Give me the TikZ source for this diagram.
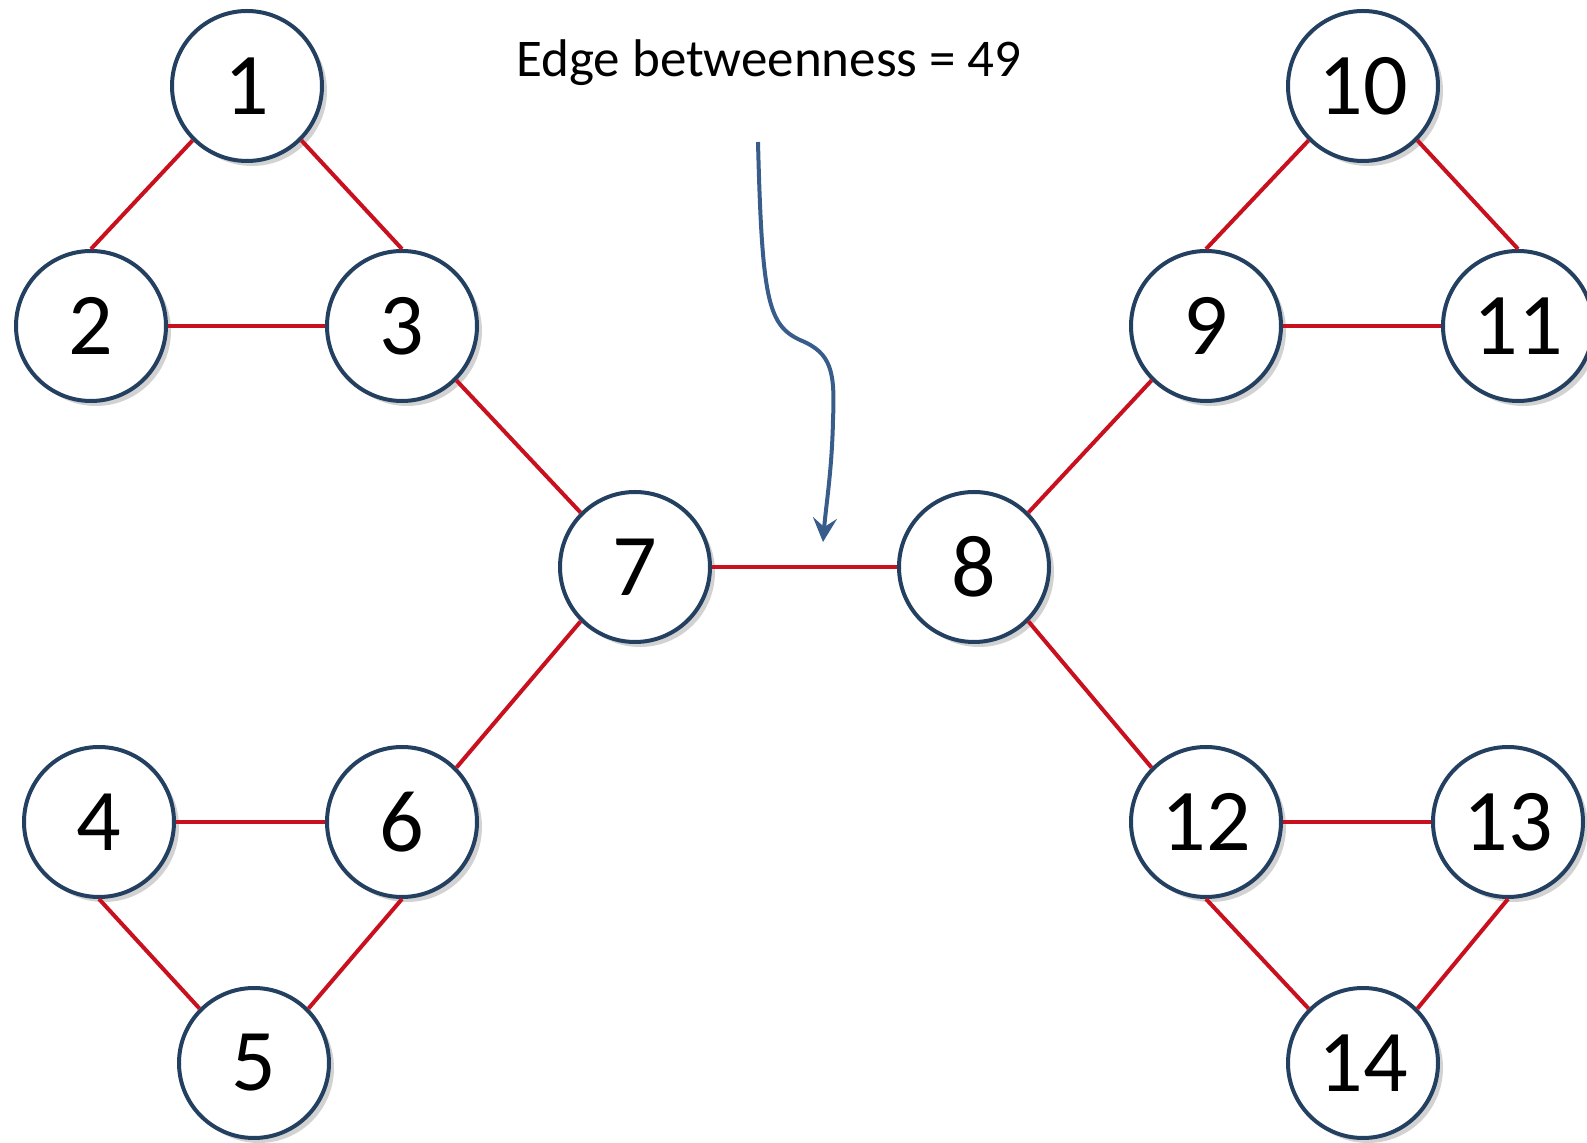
\documentclass[tikz,border=0pt]{standalone}
\usepackage{fontspec}
\setmainfont{Carlito}
\usetikzlibrary{arrows.meta,shadows}

\definecolor{ringblue}{RGB}{36,64,97}
\definecolor{edgered}{RGB}{200,16,30}
\definecolor{arrowblue}{RGB}{56,93,138}

% numbers sit a little below the centre of the ring
\newcommand{\vlabel}[1]{\raisebox{-4pt}{#1}}

\begin{document}
\begin{tikzpicture}[x=0.5pt, y=-0.5pt,
        vertex/.style={circle, draw=ringblue, line width=2pt, fill=white,
            minimum size=75pt, inner sep=0pt, font=\fontsize{44}{44}\selectfont,
            drop shadow={shadow xshift=2.5pt, shadow yshift=-2.5pt, opacity=.25, fill=black!70}},
        link/.style={edgered, line width=2pt},
        pointer/.style={arrowblue, line width=2pt, -{Stealth[length=12pt, width=12pt, inset=4.5pt]}}]
        \useasboundingbox (0,0) rectangle (1587,1143);

        % left side
        \draw (247,86) node[vertex] (1) {\vlabel{1}};
        \draw (91,326) node[vertex] (2) {\vlabel{2}};
        \draw (402,326) node[vertex] (3) {\vlabel{3}};
        \draw (99,822) node[vertex] (4) {\vlabel{4}};
        \draw (254,1063) node[vertex] (5) {\vlabel{5}};
        \draw (402,822) node[vertex] (6) {\vlabel{6}};
        \draw (635,567) node[vertex] (7) {\vlabel{7}};

        % right side
        \draw (974,567) node[vertex] (8) {\vlabel{8}};
        \draw (1206,326) node[vertex] (9) {\vlabel{9}};
        \draw (1363,86) node[vertex] (10) {\vlabel{10}};
        \draw (1518,326) node[vertex] (11) {\vlabel{11}};
        \draw (1206,822) node[vertex] (12) {\vlabel{12}};
        \draw (1508,822) node[vertex] (13) {\vlabel{13}};
        \draw (1363,1063) node[vertex] (14) {\vlabel{14}};

        \draw[link] (1.south west) -- (2.north);
        \draw[link] (1.south east) -- (3.north);
        \draw[link] (2) -- (3);
        \draw[link] (3.south east) -- (7.north west);
        \draw[link] (4) -- (6);
        \draw[link] (4.south) -- (5.north west);
        \draw[link] (6.south) -- (5.north east);
        \draw[link] (6.north east) -- (7.south west);
        \draw[link] (7) -- (8);
        \draw[link] (8.north east) -- (9.south west);
        \draw[link] (9.north) -- (10.south west);
        \draw[link] (10.south east) -- (11.north);
        \draw[link] (9) -- (11);
        \draw[link] (8.south east) -- (12.north west);
        \draw[link] (12) -- (13);
        \draw[link] (12.south) -- (14.north west);
        \draw[link] (13.south) -- (14.north east);

        % bridge annotation
        \node (title) at (769,63) {\fontsize{26.5}{30}\selectfont Edge betweenness = 49};
        \coordinate (tail) at (758,142);
        \coordinate (tip) at (823,542);
        \draw[pointer] (tail) .. controls (762,300) and (768,325) .. (800,340)
            .. controls (832,353) and (835,372) .. (833,420)
            .. controls (832,470) and (826,505) .. (tip);
    \end{tikzpicture}
\end{document}
